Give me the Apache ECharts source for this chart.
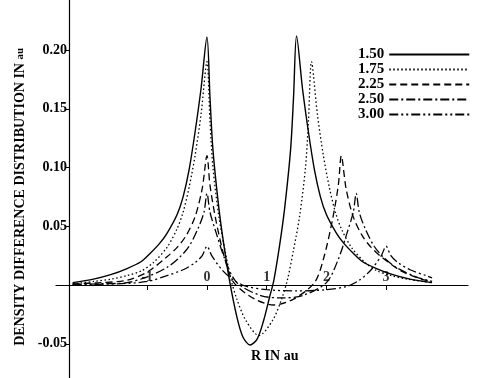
<!DOCTYPE html>
<html>
<head>
<meta charset="utf-8">
<script src="https://cdn.jsdelivr.net/npm/echarts@6/dist/echarts.min.js"></script>
<style>
  html, body { margin: 0; padding: 0; background: #fff; }
  #chart { width: 498px; height: 378px; }
</style>
</head>
<body>
<div id="chart"></div>
<script>
// bond lengths (legend names)
const names = ['1.50', '1.75', '2.25', '2.50', '3.00'];
const xTicks = [-1, 0, 1, 2, 3];

// [R, density difference]
const d150 = [
  [-2.25, 0.002], [-1.9, 0.005], [-1.6, 0.009], [-1.34, 0.014], [-1.1, 0.020], [-0.95, 0.027],
  [-0.8, 0.035], [-0.67, 0.044], [-0.5, 0.060], [-0.4, 0.075], [-0.3, 0.098], [-0.2, 0.130],
  [-0.1, 0.167], [0, 0.211], [0.05, 0.160], [0.1, 0.115], [0.2, 0.065], [0.28, 0.035],
  [0.38, 0.003], [0.5, -0.027], [0.6, -0.044], [0.72, -0.051], [0.84, -0.046], [0.95, -0.030],
  [1.05, -0.010], [1.12, 0.004], [1.22, 0.035], [1.3, 0.065], [1.4, 0.115], [1.45, 0.160],
  [1.5, 0.212], [1.6, 0.167], [1.7, 0.130], [1.8, 0.098], [1.9, 0.075], [2.0, 0.060],
  [2.17, 0.044], [2.3, 0.035], [2.45, 0.027], [2.6, 0.020], [2.84, 0.014], [3.1, 0.009],
  [3.4, 0.005], [3.77, 0.002]
];
const d175 = [
  [-2.25, 0.001], [-1.9, 0.003], [-1.6, 0.005], [-1.34, 0.008], [-1.1, 0.012], [-0.9, 0.019],
  [-0.67, 0.032], [-0.5, 0.048], [-0.4, 0.062], [-0.3, 0.083], [-0.2, 0.110], [-0.1, 0.145],
  [0, 0.190], [0.05, 0.140], [0.1, 0.100], [0.2, 0.058], [0.3, 0.030], [0.4, 0.005],
  [0.5, -0.012], [0.65, -0.030], [0.87, -0.043], [1.1, -0.030], [1.25, -0.012], [1.35, 0.005],
  [1.45, 0.030], [1.55, 0.058], [1.65, 0.100], [1.7, 0.140], [1.75, 0.190], [1.85, 0.145],
  [1.95, 0.110], [2.05, 0.083], [2.15, 0.062], [2.25, 0.048], [2.42, 0.032], [2.65, 0.019],
  [2.85, 0.012], [3.09, 0.008], [3.35, 0.005], [3.77, 0.002]
];
const d225 = [
  [-2.25, 0.001], [-1.8, 0.002], [-1.34, 0.004], [-1.0, 0.011], [-0.67, 0.024], [-0.5, 0.032],
  [-0.35, 0.042], [-0.2, 0.058], [-0.08, 0.082], [0, 0.110], [0.05, 0.085], [0.15, 0.055],
  [0.3, 0.022], [0.45, 0.002], [0.8, -0.012], [1.12, -0.017], [1.45, -0.012], [1.8, 0.002],
  [1.95, 0.022], [2.1, 0.055], [2.2, 0.085], [2.25, 0.110], [2.33, 0.082], [2.45, 0.058],
  [2.6, 0.042], [2.75, 0.032], [2.92, 0.024], [3.25, 0.012], [3.59, 0.005], [3.77, 0.003]
];
const d250 = [
  [-2.25, 0.0005], [-1.8, 0.001], [-1.34, 0.002], [-1.0, 0.007], [-0.67, 0.015], [-0.45, 0.024],
  [-0.3, 0.033], [-0.15, 0.048], [-0.05, 0.062], [0, 0.078], [0.05, 0.062], [0.15, 0.045],
  [0.3, 0.022], [0.5, 0.002], [0.9, -0.009], [1.25, -0.011], [1.6, -0.009], [2.0, 0.002],
  [2.2, 0.022], [2.35, 0.045], [2.45, 0.062], [2.5, 0.078], [2.55, 0.062], [2.65, 0.048],
  [2.8, 0.033], [2.95, 0.024], [3.17, 0.015], [3.5, 0.007], [3.77, 0.003]
];
const d300 = [
  [-2.25, 0.0003], [-1.5, 0.001], [-1.0, 0.003], [-0.67, 0.008], [-0.4, 0.013], [-0.2, 0.019],
  [-0.08, 0.025], [0, 0.033], [0.08, 0.025], [0.25, 0.013], [0.45, 0.004], [0.65, -0.001],
  [1.0, -0.004], [1.5, -0.005], [2.0, -0.004], [2.35, -0.001], [2.55, 0.004], [2.75, 0.013],
  [2.92, 0.025], [3.0, 0.033], [3.08, 0.025], [3.2, 0.019], [3.4, 0.013], [3.67, 0.008],
  [3.77, 0.006]
];

const curves = [d150, d175, d225, d250, d300];
const dashes = ['solid', [1.5, 2.5], [7, 4], [9, 3, 2, 3], [9, 3, 2, 3, 2, 3]];
const font = 'Liberation Serif, Times New Roman, serif';

const chart = echarts.init(document.getElementById('chart'));

const lineSeries = curves.map(function (d, i) {
  return {
    name: names[i],
    type: 'line',
    data: d,
    symbol: 'none',
    smooth: 0.3,
    lineStyle: { color: '#000', width: i === 0 ? 1.4 : 1.3, type: dashes[i] },
    itemStyle: { color: '#000' }
  };
});

// x tick labels sit just above the axis line
const tickLabels = {
  type: 'scatter',
  symbolSize: 0,
  silent: true,
  data: xTicks.map(function (t) { return [t, 0]; }),
  label: {
    show: true,
    position: 'top',
    distance: 1,
    formatter: function (p) { return String(p.value[0]); },
    fontFamily: font, fontWeight: 'bold', fontSize: 14, color: '#000'
  },
  z: 5
};

chart.setOption({
  animation: false,
  backgroundColor: '#fff',
  grid: { left: 56, right: 30, top: -8.75, bottom: -24.5, outerBoundsMode: 'none' },
  title: {
    text: 'R IN au',
    left: 246,
    top: 344,
    textStyle: { fontFamily: font, fontWeight: 'bold', fontSize: 14, color: '#000' }
  },
  legend: {
    orient: 'vertical',
    left: 353,
    top: 42,
    align: 'right',
    itemWidth: 80,
    itemHeight: 14,
    itemGap: 0,
    data: names,
    itemStyle: { opacity: 0 },
    textStyle: { fontFamily: font, fontWeight: 'bold', fontSize: 15, color: '#000' }
  },
  xAxis: {
    type: 'value',
    min: -2.529,
    max: 4.372,
    axisLine: { onZero: true, lineStyle: { color: '#000', width: 1.2 } },
    splitLine: { show: false },
    axisTick: { customValues: xTicks, length: 5, lineStyle: { color: '#000' } },
    axisLabel: { show: false }
  },
  yAxis: {
    type: 'value',
    min: -0.1,
    max: 0.25,
    interval: 0.05,
    offset: -13,
    axisLine: { show: true, onZero: false, lineStyle: { color: '#000', width: 1.2 } },
    splitLine: { show: false },
    axisTick: { length: 4, lineStyle: { color: '#000' } },
    axisLabel: {
      margin: 2,
      fontFamily: font, fontWeight: 'bold', fontSize: 14, color: '#000',
      formatter: function (v) { return Math.abs(v) < 1e-9 ? '' : v.toFixed(2); }
    },
    name: 'DENSITY DIFFERENCE DISTRIBUTION IN {s|au}',
    nameLocation: 'middle',
    nameRotate: 90,
    nameGap: 38,
    nameTextStyle: {
      fontFamily: font, fontWeight: 'bold', fontSize: 14, color: '#000',
      rich: { s: { fontFamily: font, fontWeight: 'bold', fontSize: 11, color: '#000' } }
    }
  },
  series: lineSeries.concat([tickLabels])
});
</script>
</body>
</html>
